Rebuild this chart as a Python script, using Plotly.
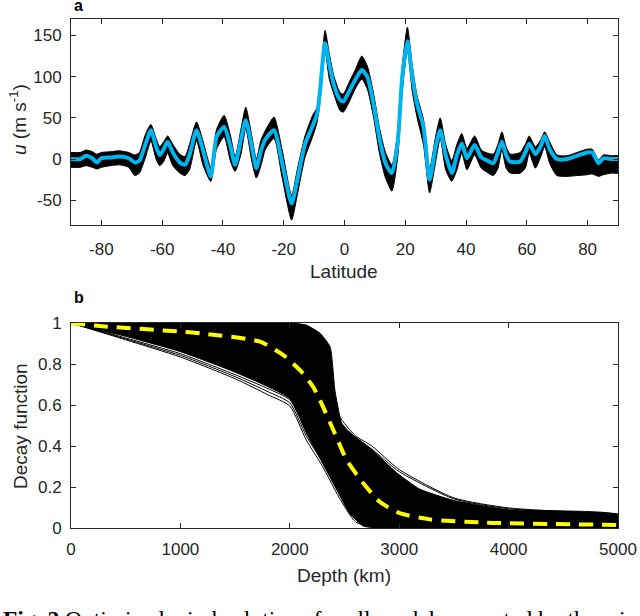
import plotly.graph_objects as go

# ---- panel a: zonal wind vs latitude ----
lat = [-90, -87, -85, -83, -81.5, -80, -77, -74, -71, -69, -67.5, -65.5, -63.7, -62, -60.8,
       -59.5, -58.2, -56.5, -54.2, -52.5, -51, -48.7, -46.5, -44, -42.1, -39.6, -37.5, -36,
       -34, -32.5, -30.5, -29, -27.5, -26, -23.2, -20.5, -17.4, -15.5, -13, -10.5, -9, -8,
       -6.4, -5, -3.5, -1.5, -0.4, 1.5, 3.5, 5.7, 7.5, 9.5, 11.5, 13.5, 15.6, 17.5, 19, 20.7,
       22.3, 23.8, 26, 28, 30, 31.5, 33.3, 35.3, 37, 38.6, 40.3, 42.8, 45, 46.5, 49, 50.5,
       51.8, 53.2, 54.5, 57.8, 59.5, 60.8, 62.8, 64.5, 65.9, 67.5, 69.9, 73.2, 76.5, 79.8,
       81.5, 83.6, 85.2, 88, 90]
u_best = [0, 0, 4, 1, -4, 1, 2, 3, 1, -4, -2, 18, 35, 15, 5,
          12, 21, 8, -4, -7, 5, 35, 10, -21, 27, 39, 15, -7,
          25, 47, 15, -11, 10, 24, 35, -5, -54, -25, 18, 40, 55, 85,
          141, 115, 90, 72, 70, 82, 96, 108, 100, 68, 25, -5, -17, 20, 100, 143,
          100, 68, 39, -25, 15, 35, 5, -17, 5, 19, 1, 17, 2, -1, -5, 8,
          21, 5, -3, -3, 8, 19, 6, 15, 28, 12, 0, 0, 4, 8,
          8, -5, 1, 0, 0]
u_high = [8, 8, 11, 9, 6, 8, 9, 10, 8, 5, 8, 30, 42, 25, 15,
          21, 28, 18, 6, 3, 18, 45, 21, -10, 36, 53, 28, 3,
          38, 63, 28, 0, 23, 35, 51, 11, -44, -12, 28, 53, 63, 93,
          156, 128, 101, 81, 79, 93, 108, 125, 113, 81, 38, 8, -7, 33, 113, 160,
          113, 78, 48, -12, 28, 50, 18, -2, 18, 31, 13, 28, 11, 8, 6, 18,
          33, 15, 6, 8, 18, 28, 15, 23, 33, 21, 5, 4, 8, 12,
          12, -1, 5, 4, 4]
u_low = [-10, -10, -8, -10, -12, -10, -8, -7, -10, -20, -17, 2, 22, 0, -8,
         -3, 7, -8, -17, -20, -13, 22, -8, -27, 12, 27, -3, -15,
         7, 37, -3, -23, -8, 12, 25, -23, -74, -43, 2, 27, 45, 72,
         132, 97, 79, 59, 57, 69, 85, 97, 85, 52, 7, -23, -39, 2, 82, 132,
         82, 52, 17, -41, -3, 25, -13, -27, -13, 7, -13, 5, -11, -15, -20, -11,
         11, -11, -17, -17, -11, 7, -11, 2, 15, -5, -20, -21, -20, -19,
         -18, -21, -19, -17, -17]

lat_ticks = [-80, -60, -40, -20, 0, 20, 40, 60, 80]
u_ticks = [-50, 0, 50, 100, 150]

# ---- panel b: decay functions vs depth ----
depth_top = [0, 1000, 2000, 2150, 2276, 2368, 2413, 2474, 2520, 2733, 2977, 3187, 3495, 3983, 5000]
decay_top = [1, 1, 1, 0.99, 0.95, 0.884, 0.67, 0.51, 0.478, 0.39, 0.27, 0.19, 0.135, 0.09, 0.064]
depth_bot = [0, 500, 1000, 1500, 2002, 2154, 2276, 2426, 2550, 2670, 2800, 5000]
decay_bot = [1, 0.935, 0.86, 0.76, 0.63, 0.46, 0.34, 0.19, 0.07, 0.01, 0, 0]

# individual members showing at the edges of the bundle
depth_member = [0, 500, 1000, 1500, 1800, 2000, 2150, 2300, 2450, 2600, 2750, 3000, 3500, 4000, 5000]
decay_members = [
    [1, 0.918, 0.834, 0.728, 0.65, 0.595, 0.43, 0.30, 0.15, 0.03, 0.005, 0, 0, 0, 0],
    [1, 0.922, 0.842, 0.738, 0.665, 0.61, 0.45, 0.32, 0.17, 0.045, 0.008, 0, 0, 0, 0],
    [1, 0.927, 0.85, 0.748, 0.68, 0.625, 0.47, 0.33, 0.18, 0.06, 0.01, 0, 0, 0, 0],
    [1, 1, 1, 1, 1, 0.995, 0.98, 0.92, 0.55, 0.45, 0.40, 0.285, 0.147, 0.098, 0.069],
    [1, 1, 1, 1, 1, 0.995, 0.97, 0.90, 0.53, 0.44, 0.385, 0.275, 0.142, 0.094, 0.067],
]
depth_mean = [0, 265, 1179, 1728, 1938, 2093, 2212, 2276, 2398, 2520, 2672, 2822, 3005, 3281, 3798, 5000]
decay_mean = [1, 0.985, 0.95, 0.909, 0.844, 0.77, 0.69, 0.624, 0.478, 0.332, 0.218, 0.128, 0.072,
              0.042, 0.026, 0.015]

depth_ticks = [0, 1000, 2000, 3000, 4000, 5000]
decay_ticks = [0, 0.2, 0.4, 0.6, 0.8, 1]

ink = "#262626"
sans = "Liberation Sans, Arial, sans-serif"
tick_font = dict(family=sans, size=17, color=ink)
title_font = dict(family=sans, size=19, color=ink)

W, H = 640, 616


def px_x(p):
    return p / W


def px_y(p):
    return 1 - p / H


fig = go.Figure()

# panel a band (ensemble) and best solution
fig.add_trace(go.Scatter(x=lat + lat[::-1], y=u_high + u_low[::-1], fill="toself",
                         fillcolor="black", line=dict(color="black", width=1, shape="spline", smoothing=0.6),
                         mode="lines", xaxis="x", yaxis="y", hoverinfo="skip"))
fig.add_trace(go.Scatter(x=lat, y=u_best, mode="lines",
                         line=dict(color="#00B4F0", width=4, shape="spline", smoothing=0.6),
                         xaxis="x", yaxis="y"))

# panel b bundle
fig.add_trace(go.Scatter(x=depth_top + depth_bot[::-1], y=decay_top + decay_bot[::-1], fill="toself",
                         fillcolor="black", line=dict(color="black", width=1, shape="spline", smoothing=0.5),
                         mode="lines", xaxis="x2", yaxis="y2", hoverinfo="skip"))
for m in decay_members:
    fig.add_trace(go.Scatter(x=depth_member, y=m, mode="lines",
                             line=dict(color="black", width=1, shape="spline", smoothing=0.6),
                             xaxis="x2", yaxis="y2"))
fig.add_trace(go.Scatter(x=depth_mean, y=decay_mean, mode="lines",
                         line=dict(color="#FFFF00", width=4, dash="14px,9px", shape="spline", smoothing=0.6),
                         xaxis="x2", yaxis="y2"))

axis_common = dict(showgrid=False, zeroline=False, showline=True, linecolor=ink, linewidth=1,
                   mirror="ticks", ticks="inside", ticklen=5, tickcolor=ink, tickfont=tick_font,
                   automargin=False)

fig.update_layout(
    width=W, height=H,
    margin=dict(l=0, r=0, t=0, b=0),
    paper_bgcolor="white", plot_bgcolor="white",
    showlegend=False,
    xaxis=dict(domain=[px_x(71), px_x(618)], range=[-90, 90], anchor="y",
               tickvals=lat_ticks, ticktext=[str(v) for v in lat_ticks],
               ticklabelstandoff=9, **axis_common),
    yaxis=dict(domain=[px_y(225), px_y(19)], range=[-80, 170], anchor="x",
               tickvals=u_ticks, ticktext=[str(v) for v in u_ticks],
               ticklabelstandoff=5, **axis_common),
    xaxis2=dict(domain=[px_x(71), px_x(618)], range=[0, 5000], anchor="y2",
                tickvals=depth_ticks, ticktext=[str(v) for v in depth_ticks],
                ticklabelstandoff=6, **axis_common),
    yaxis2=dict(domain=[px_y(528), px_y(323)], range=[0, 1], anchor="x2",
                tickvals=decay_ticks, ticktext=[str(v) for v in decay_ticks],
                ticklabelstandoff=5, **axis_common),
    annotations=[
        dict(text="<b>a</b>", x=px_x(72), y=px_y(6), xref="paper", yref="paper",
             xanchor="left", yanchor="middle", showarrow=False,
             font=dict(family=sans, size=16, color="black")),
        dict(text="<b>b</b>", x=px_x(72), y=px_y(297), xref="paper", yref="paper",
             xanchor="left", yanchor="middle", showarrow=False,
             font=dict(family=sans, size=16, color="black")),
        dict(text="Latitude", x=px_x(344), y=px_y(271), xref="paper", yref="paper",
             xanchor="center", yanchor="middle", showarrow=False, font=title_font),
        dict(text="<i>u</i> (m s<sup>-1</sup>)", x=px_x(18), y=px_y(120), xref="paper", yref="paper",
             xanchor="center", yanchor="middle", textangle=-90, showarrow=False, font=title_font),
        dict(text="Depth (km)", x=px_x(344), y=px_y(575), xref="paper", yref="paper",
             xanchor="center", yanchor="middle", showarrow=False, font=title_font),
        dict(text="Decay function", x=px_x(20), y=px_y(426), xref="paper", yref="paper",
             xanchor="center", yanchor="middle", textangle=-90, showarrow=False, font=title_font),
        dict(text="<b>Fig. 2</b> Optimized wind solutions for all models accepted by the wind",
             x=px_x(1), y=px_y(604), xref="paper", yref="paper",
             xanchor="left", yanchor="top", showarrow=False,
             font=dict(family="Liberation Serif, Times New Roman, serif", size=23.5, color="black")),
    ],
)

# drop the default page margin so the figure sits at the window corner
fig.write_html("out.html", config={"displayModeBar": False},
               post_script="document.body.style.margin='0';")
